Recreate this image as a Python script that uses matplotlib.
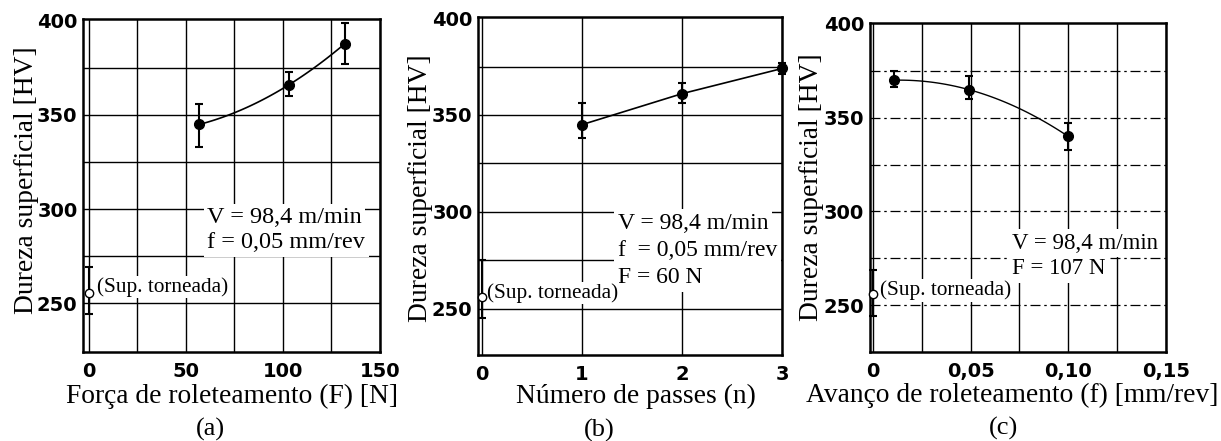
import numpy as np
import matplotlib
matplotlib.use("Agg")
import matplotlib.pyplot as plt
from matplotlib.ticker import FixedLocator, FixedFormatter

# ---- data ----
# (a) Força de roleteamento
a_x = [57, 103, 132]
a_y = [345, 366, 388]
a_lo = [333, 360, 377]
a_hi = [356, 373, 399]
# (b) Número de passes
b_x = [1, 2, 3]
b_y = [345, 361, 374]
b_lo = [338, 356, 371]
b_hi = [356, 366.5, 377]
# (c) Avanço de roleteamento
c_x = [0.011, 0.049, 0.10]
c_y = [370, 365, 340]
c_lo = [366.5, 360, 333]
c_hi = [375, 372, 347]
# turned surface reference (x = 0)
t_y = [255.5, 256, 256]
t_lo = [244, 245, 244]
t_hi = [269, 275, 269]

a_xticks = [0, 50, 100, 150]
b_xticks = [0, 1, 2, 3]
c_xticks = [0, 0.05, 0.10, 0.15]
c_xticklabels = ["0", "0,05", "0,10", "0,15"]
yticks = [250, 300, 350, 400]

serif = "Liberation Serif"

fig = plt.figure(figsize=(12.21, 4.41), dpi=100)
axA = fig.add_axes([0.068, 0.2018, 0.2432, 0.755])
axB = fig.add_axes([0.3915, 0.195, 0.249, 0.766])
axC = fig.add_axes([0.7125, 0.2018, 0.2424, 0.746])

def setup(ax, xlim, ylim, xmaj, xmin, xlabels, hdash=False):
    ax.set_xlim(*xlim)
    ax.set_ylim(*ylim)
    ax.xaxis.set_major_locator(FixedLocator(xmaj))
    ax.xaxis.set_major_formatter(FixedFormatter(xlabels))
    ax.xaxis.set_minor_locator(FixedLocator(xmin))
    ax.yaxis.set_major_locator(FixedLocator(yticks))
    ax.yaxis.set_minor_locator(FixedLocator([275, 325, 375]))
    ax.tick_params(which="both", length=0)
    ax.tick_params(axis="y", pad=4)
    ax.tick_params(axis="x", pad=7)
    for lab in ax.get_xticklabels() + ax.get_yticklabels():
        lab.set_fontfamily("DejaVu Sans")
        lab.set_fontweight("bold")
        lab.set_fontsize(14)
    ax.grid(True, axis="x", which="both", color="black", lw=1.0)
    if hdash:
        ax.grid(True, axis="y", which="both", color="black", lw=0.9,
                linestyle=(0, (8, 3, 2, 3)))
    else:
        ax.grid(True, axis="y", which="both", color="black", lw=1.0)
    ax.set_axisbelow(True)
    for s in ax.spines.values():
        s.set_linewidth(1.8)
        s.set_color("black")
        s.set_zorder(7)

setup(axA, (-3, 150), (224, 401), a_xticks, [25, 75, 125],
      [str(v) for v in a_xticks])
setup(axB, (-0.04, 3.0), (226, 400.5), b_xticks, [],
      [str(v) for v in b_xticks])
setup(axC, (-0.0015, 0.15), (225, 400.5), c_xticks, [0.025, 0.075, 0.125],
      c_xticklabels, hdash=True)
for ax in (axA, axB, axC):
    ax.get_ygridlines()[-1].set_visible(False)

def points(ax, x, y, lo, hi):
    y = np.array(y); lo = np.array(lo); hi = np.array(hi)
    ax.errorbar(x, y, yerr=[y - lo, hi - y], fmt="o", color="black",
                ms=7, capsize=3, elinewidth=1.5, capthick=1.5, zorder=4,
                clip_on=False)

def turned(ax, i):
    y = t_y[i]
    ax.errorbar([0], [y], yerr=[[y - t_lo[i]], [t_hi[i] - y]], fmt="o",
                color="black", mfc="white", mec="black", ms=6, capsize=3,
                elinewidth=1.5, capthick=1.5, zorder=9, clip_on=False)

# (a) smooth curve
pa = np.polyfit(a_x, a_y, 2)
xa = np.linspace(a_x[0], a_x[-1], 100)
axA.plot(xa, np.polyval(pa, xa), color="black", lw=1.2, zorder=3)
points(axA, a_x, a_y, a_lo, a_hi)
turned(axA, 0)

# (b) straight segments
axB.plot(b_x, b_y, color="black", lw=1.2, zorder=3)
points(axB, b_x, b_y, b_lo, b_hi)
turned(axB, 1)

# (c) smooth curve
pc = np.polyfit(c_x, c_y, 2)
xc = np.linspace(c_x[0], c_x[-1], 100)
axC.plot(xc, np.polyval(pc, xc), color="black", lw=1.0, zorder=3)
points(axC, c_x, c_y, c_lo, c_hi)
turned(axC, 2)

def note(ax, x, y, s, size=17.5, pad=2.5):
    ax.text(x, y, s, fontfamily=serif, fontsize=size, ha="left", va="center",
            bbox=dict(facecolor="white", edgecolor="none", pad=pad), zorder=6)

note(axA, 61, 295.5, "V = 98,4 m/min")
note(axA, 61, 282, "f = 0,05 mm/rev")
note(axA, 4, 258.5, "(Sup. torneada)", 15.3, 1.0)

note(axB, 1.36, 294, "V = 98,4 m/min", 17)
note(axB, 1.36, 280, "f  = 0,05 mm/rev", 17)
note(axB, 1.36, 266, "F = 60 N", 17)
note(axB, 0.045, 258, "(Sup. torneada)", 15.3, 1.0)

note(axC, 0.071, 283, "V = 98,4 m/min", 16.5)
note(axC, 0.071, 269.5, "F = 107 N", 16.5)
note(axC, 0.0035, 258, "(Sup. torneada)", 15.3, 1.0)

ylab = "Dureza superficial [HV]"
for ax, lx, ly, xl, xx, xy, tag, tx, ty in [
    (axA, -0.19, 0.517, "Força de roleteamento (F) [N]", 0.50, -0.132, "(a)", 0.428, -0.234),
    (axB, -0.19, 0.494, "Número de passes (n)", 0.52, -0.124, "(b)", 0.40, -0.222),
    (axC, -0.198, 0.50, "Avanço de roleteamento (f) [mm/rev]", 0.48, -0.131, "(c)", 0.45, -0.231),
]:
    ax.text(lx, ly, ylab, transform=ax.transAxes, rotation=90, ha="center",
            va="center", fontfamily=serif, fontsize=19.8)
    ax.text(xx, xy, xl, transform=ax.transAxes, ha="center", va="center",
            fontfamily=serif, fontsize=19.8)
    ax.text(tx, ty, tag, transform=ax.transAxes, ha="center", va="center",
            fontfamily=serif, fontsize=19)

fig.savefig("out.png", dpi=100)
